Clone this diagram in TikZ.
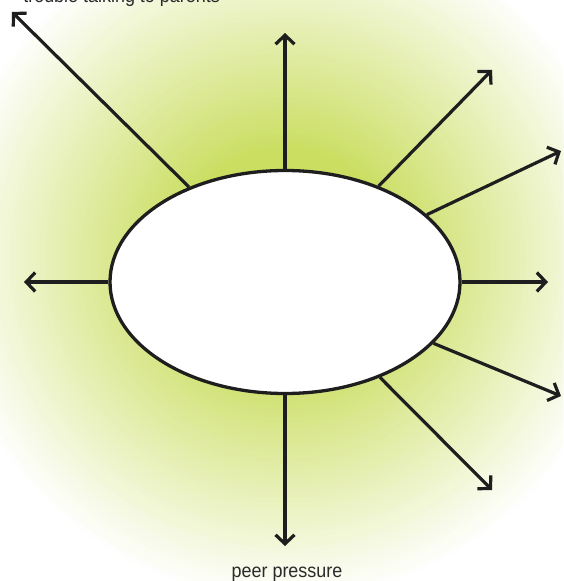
\documentclass[tikz,border=0pt]{standalone}
\usepackage{fontspec}
\newfontfamily\lblfont[FakeStretch=0.92]{Liberation Sans}
\usepackage{xcolor}
\usepackage{tikz}
\usetikzlibrary{shapes.geometric, arrows.meta, positioning}
\definecolor{glowGreen}{HTML}{CBDE62}
\definecolor{inkDark}{HTML}{1E1E1E}
\definecolor{lblGrey}{HTML}{2A2A2A}
\tikzset{
  hub/.style={ellipse, draw=inkDark, line width=3.3pt, fill=white,
              minimum width=350pt, minimum height=223pt, inner sep=0pt},
  spoke/.style={draw=inkDark, line width=3.2pt,
                -{Straight Barb[length=9pt,width=19pt,line width=3.2pt]}},
  lbl/.style={font=\lblfont\fontsize{19.5}{21}\selectfont, text=lblGrey, inner sep=0pt},
}

\begin{document}
\begin{tikzpicture}[x=1pt,y=-1pt]
\useasboundingbox (0,0) rectangle (563,581);
\clip (0,0) rectangle (563,581);
\fill[white] (0,0) rectangle (563,581);
% soft halo behind the hub, ring by ring
\foreach \r in {345,340,...,110} {
  \pgfmathsetmacro\pct{(345-\r)/2.35}
  \fill[glowGreen!\pct!white] (285,258) circle (\r);
}

\node[hub] (core) at (285,282) {};

\coordinate (tUp) at (285,33);
\coordinate (tUL) at (12,12);
\coordinate (tUR) at (492,70);
\coordinate (tRU) at (561,151);
\coordinate (tR)  at (548,282);
\coordinate (tRD) at (561,396);
\coordinate (tDR) at (492,490);
\coordinate (tDn) at (285,546);
\coordinate (tL)  at (24,282);

\foreach \t in {tUp,tUL,tUR,tRU,tR,tRD,tDR,tDn,tL}
  \draw[spoke] (core) -- (\t);

\node[lbl, anchor=base] (peer) at (287,577) {peer pressure};
\node[lbl, anchor=base east] (cut) at (220,2) {trouble talking to parents};
\end{tikzpicture}
\end{document}
